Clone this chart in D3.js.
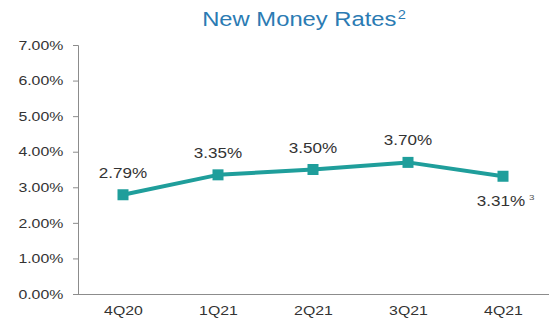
<!DOCTYPE html>
<html>
<head>
<meta charset="utf-8">
<script src="https://cdn.jsdelivr.net/npm/d3@7"></script>
<style>
  body { margin: 0; background: #fff; }
  svg { display: block; font-family: "Liberation Sans", Arial, sans-serif; }
</style>
</head>
<body>
<svg id="chart" width="549" height="326"></svg>
<script>
// Quarterly new money rates (%)
const quarters = ["4Q20", "1Q21", "2Q21", "3Q21", "4Q21"];
const rates = [2.79, 3.35, 3.50, 3.70, 3.31];
const rateLabels = ["2.79%", "3.35%", "3.50%", "3.70%", "3.31%"];
const yTicks = [0, 1, 2, 3, 4, 5, 6, 7];

const svg = d3.select("#chart");
const teal = "#1f9e9b";
const axisColor = "#8c8c8c";
const textColor = "#333";
const sx = 1.22; // wide lettering

const x = d3.scalePoint().domain(quarters).range([123, 503]);
const y = d3.scaleLinear().domain([0, 7]).range([294, 45]);

// Title with superscript footnote
const title = svg.append("g")
  .attr("transform", `translate(304,26) scale(${sx},1)`)
  .append("text")
  .attr("text-anchor", "middle")
  .attr("fill", "#2b7bb3")
  .attr("font-size", 19.5);
title.append("tspan").text("New Money Rates");
title.append("tspan").attr("font-size", 12).attr("dx", 1).attr("dy", -7).text("2");

// Y axis
const yAxis = svg.append("g")
  .attr("transform", "translate(78,0)")
  .call(d3.axisLeft(y).tickValues(yTicks).tickSize(5).tickPadding(7)
    .tickFormat(d => d3.format(".2f")(d) + "%"));
yAxis.select(".domain").attr("stroke", axisColor);
yAxis.selectAll(".tick line").attr("stroke", axisColor);
yAxis.selectAll(".tick text")
  .attr("fill", textColor).attr("font-size", 13)
  .attr("font-family", "Liberation Sans, Arial, sans-serif")
  .attr("transform", `scale(${sx},1)`);

// X axis
const xAxis = svg.append("g")
  .attr("transform", "translate(0,294)")
  .call(d3.axisBottom(x).tickSize(0).tickPadding(12));
xAxis.select(".domain").remove();
svg.append("line")
  .attr("x1", 78).attr("x2", 549)
  .attr("y1", 294.5).attr("y2", 294.5)
  .attr("stroke", axisColor);
xAxis.selectAll(".tick text")
  .attr("fill", textColor).attr("font-size", 13)
  .attr("font-family", "Liberation Sans, Arial, sans-serif")
  .attr("transform", `scale(${sx},1)`);

// Rate line
const line = d3.line().x((d, i) => x(quarters[i])).y(d => y(d));
svg.append("path")
  .datum(rates)
  .attr("d", line)
  .attr("fill", "none")
  .attr("stroke", teal)
  .attr("stroke-width", 4)
  .attr("stroke-linejoin", "round");

// Square markers
const m = 11;
svg.selectAll("rect.marker")
  .data(rates)
  .enter().append("rect")
  .attr("class", "marker")
  .attr("x", (d, i) => x(quarters[i]) - m / 2)
  .attr("y", d => y(d) - m / 2)
  .attr("width", m).attr("height", m)
  .attr("fill", teal);

// Value labels (last one sits below its point, with a footnote mark)
const last = rates.length - 1;
const labels = svg.selectAll("g.val")
  .data(rates)
  .enter().append("g")
  .attr("class", "val")
  .attr("transform", (d, i) => {
    const lx = x(quarters[i]) + (i === last ? -2 : 0);
    const ly = i === last ? y(d) + 30 : y(d) - 17;
    return `translate(${lx},${ly}) scale(${sx},1)`;
  })
  .append("text")
  .attr("text-anchor", "middle")
  .attr("fill", textColor)
  .attr("font-size", 14);
labels.append("tspan").text((d, i) => rateLabels[i]);
svg.selectAll("g.val").filter((d, i) => i === last)
  .append("text")
  .attr("x", 23).attr("y", -6)
  .attr("fill", "#555")
  .attr("font-size", 8)
  .text("3");
</script>
</body>
</html>
